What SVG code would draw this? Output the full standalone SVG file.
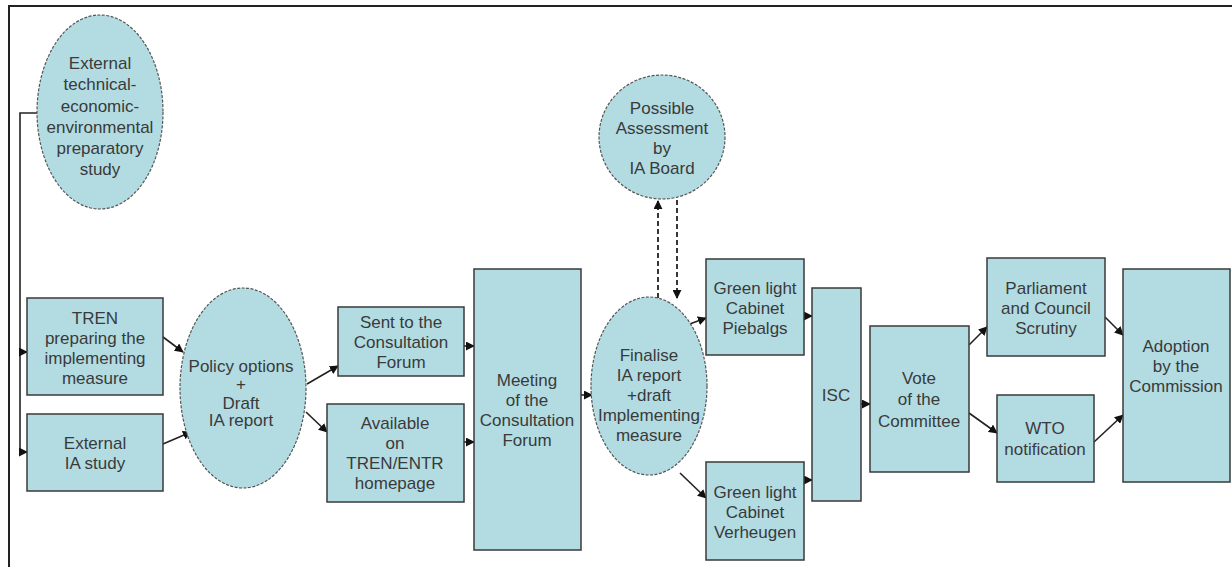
<svg xmlns="http://www.w3.org/2000/svg" width="1232" height="567" viewBox="0 0 1232 567">
<defs>
<marker id="ah" viewBox="0 0 10 10" refX="9" refY="5" markerWidth="9" markerHeight="9" markerUnits="userSpaceOnUse" orient="auto">
<path d="M0,0 L10,5 L0,10 z" fill="#111"/>
</marker>
</defs>
<style>
.n{fill:#b2dce2;stroke:#3a3a3a;stroke-width:1.5}
.e{fill:#b2dce2;stroke:#555;stroke-width:1.2;stroke-dasharray:3 1.5}
text{font-family:"Liberation Sans",Arial,sans-serif;font-size:17px;fill:#3a3a3a;text-anchor:middle}
.c{fill:none;stroke:#222;stroke-width:1.6}
.d{fill:none;stroke:#222;stroke-width:1.8;stroke-dasharray:5 3}
</style>
<rect width="1232" height="567" fill="#fff"/>
<path d="M9,567 V6 H1232" fill="none" stroke="#222" stroke-width="2"/>
<g id="connectors">
<path class="c" d="M37,113 H20 V452 H27" marker-end="url(#ah)"/>
<path class="c" d="M20,352 H27" marker-end="url(#ah)"/>
<path class="c" d="M163,337 L183,352" marker-end="url(#ah)"/>
<path class="c" d="M163,444 L191,432" marker-end="url(#ah)"/>
<path class="c" d="M307,384 L338,366" marker-end="url(#ah)"/>
<path class="c" d="M306,412 L327,432" marker-end="url(#ah)"/>
<path class="c" d="M464,346 H474" marker-end="url(#ah)"/>
<path class="c" d="M464,442 H474" marker-end="url(#ah)"/>
<path class="c" d="M581,395 H592" marker-end="url(#ah)"/>
<path class="d" d="M658,298 V201" marker-end="url(#ah)"/>
<path class="d" d="M677,200 V298" marker-end="url(#ah)"/>
<path class="c" d="M687,325 L706,318" marker-end="url(#ah)"/>
<path class="c" d="M680,473 L706,498" marker-end="url(#ah)"/>
<path class="c" d="M804,316 H812" marker-end="url(#ah)"/>
<path class="c" d="M804,480 H812" marker-end="url(#ah)"/>
<path class="c" d="M861,404 H870" marker-end="url(#ah)"/>
<path class="c" d="M969,345 L987,327" marker-end="url(#ah)"/>
<path class="c" d="M969,413 L997,433" marker-end="url(#ah)"/>
<path class="c" d="M1105,317 L1123,335" marker-end="url(#ah)"/>
<path class="c" d="M1094,442 L1123,415" marker-end="url(#ah)"/>
</g>
<g id="external-study">
<ellipse class="e" cx="100" cy="112" rx="63" ry="97"/>
<text x="100" y="69">External</text>
<text x="100" y="90">technical-</text>
<text x="100" y="112">economic-</text>
<text x="100" y="133">environmental</text>
<text x="100" y="154">preparatory</text>
<text x="100" y="175">study</text>
</g>
<g id="tren">
<rect class="n" x="27" y="298" width="136" height="97"/>
<text x="95" y="324">TREN</text>
<text x="95" y="344">preparing the</text>
<text x="95" y="364">implementing</text>
<text x="95" y="384">measure</text>
</g>
<g id="external-ia">
<rect class="n" x="27" y="414" width="136" height="77"/>
<text x="95" y="449">External</text>
<text x="95" y="469">IA study</text>
</g>
<g id="policy">
<ellipse class="e" cx="243" cy="388" rx="63" ry="100"/>
<text x="241" y="372">Policy options</text>
<text x="241" y="390">+</text>
<text x="241" y="409">Draft</text>
<text x="241" y="426">IA report</text>
</g>
<g id="sent">
<rect class="n" x="338" y="307" width="126" height="69"/>
<text x="401" y="328">Sent to the</text>
<text x="401" y="348">Consultation</text>
<text x="401" y="368">Forum</text>
</g>
<g id="available">
<rect class="n" x="327" y="404" width="137" height="98"/>
<text x="395" y="429">Available</text>
<text x="395" y="449">on</text>
<text x="395" y="469">TREN/ENTR</text>
<text x="395" y="489">homepage</text>
</g>
<g id="meeting">
<rect class="n" x="474" y="269" width="107" height="281"/>
<text x="527" y="386">Meeting</text>
<text x="527" y="406">of the</text>
<text x="527" y="426">Consultation</text>
<text x="527" y="446">Forum</text>
</g>
<g id="possible">
<ellipse class="e" cx="662" cy="137" rx="63" ry="62"/>
<text x="662" y="114">Possible</text>
<text x="662" y="134">Assessment</text>
<text x="662" y="154">by</text>
<text x="662" y="174">IA Board</text>
</g>
<g id="finalise">
<ellipse class="e" cx="649" cy="386" rx="58" ry="89"/>
<text x="649" y="361">Finalise</text>
<text x="649" y="381">IA report</text>
<text x="649" y="401">+draft</text>
<text x="649" y="421">Implementing</text>
<text x="649" y="441">measure</text>
</g>
<g id="piebalgs">
<rect class="n" x="706" y="259" width="98" height="96"/>
<text x="755" y="294">Green light</text>
<text x="755" y="314">Cabinet</text>
<text x="755" y="334">Piebalgs</text>
</g>
<g id="verheugen">
<rect class="n" x="706" y="462" width="98" height="98"/>
<text x="755" y="498">Green light</text>
<text x="755" y="518">Cabinet</text>
<text x="755" y="538">Verheugen</text>
</g>
<g id="isc">
<rect class="n" x="812" y="288" width="49" height="213"/>
<text x="836" y="401">ISC</text>
</g>
<g id="vote">
<rect class="n" x="870" y="326" width="99" height="146"/>
<text x="919" y="384">Vote</text>
<text x="919" y="405">of the</text>
<text x="919" y="427">Committee</text>
</g>
<g id="parliament">
<rect class="n" x="987" y="258" width="118" height="98"/>
<text x="1046" y="294">Parliament</text>
<text x="1046" y="314">and Council</text>
<text x="1046" y="334">Scrutiny</text>
</g>
<g id="wto">
<rect class="n" x="997" y="395" width="97" height="87"/>
<text x="1045" y="434">WTO</text>
<text x="1045" y="455">notification</text>
</g>
<g id="adoption">
<rect class="n" x="1123" y="269" width="107" height="213"/>
<text x="1176" y="352">Adoption</text>
<text x="1176" y="372">by the</text>
<text x="1176" y="392">Commission</text>
</g>
</svg>
